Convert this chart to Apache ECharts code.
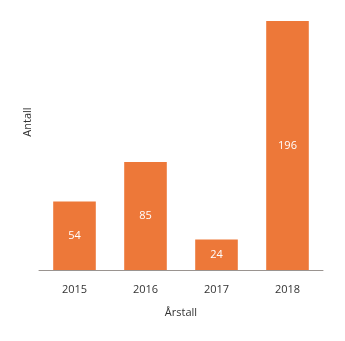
<!DOCTYPE html>
<html>
<head>
<meta charset="utf-8">
<script src="https://cdn.jsdelivr.net/npm/echarts@6/dist/echarts.min.js"></script>
<style>html,body{margin:0;padding:0;background:#fff;}#c{width:345px;height:341px;}</style>
</head>
<body>
<div id="c"></div>
<script>
const categories = ['2015', '2016', '2017', '2018'];
const values = [54, 85, 24, 196];
const xAxisTitle = 'Årstall';
const yAxisTitle = 'Antall';

const chart = echarts.init(document.getElementById('c'), null, {renderer: 'canvas'});
chart.setOption({
  animation: false,
  grid: {left: 39, right: 22, top: 21, bottom: 71},
  xAxis: {
    type: 'category',
    data: categories,
    axisLine: {lineStyle: {color: '#9a9490', width: 1}},
    axisTick: {show: false},
    axisLabel: {color: '#333', fontFamily: 'Open Sans', fontSize: 11, margin: 14},
    name: xAxisTitle,
    nameLocation: 'middle',
    nameGap: 37,
    nameTextStyle: {color: '#333', fontFamily: 'Open Sans', fontSize: 11}
  },
  yAxis: {
    type: 'value',
    min: 0,
    max: 196,
    show: false
  },
  graphic: [{
    type: 'text',
    x: 28, y: 122,
    rotation: Math.PI / 2,
    style: {text: yAxisTitle, fill: '#333', font: '11px "Open Sans"', align: 'center', verticalAlign: 'middle'}
  }],
  series: [{
    type: 'bar',
    data: values,
    barWidth: '60%',
    itemStyle: {color: '#ED7839'},
    label: {show: true, position: 'inside', color: '#fff', fontFamily: 'Open Sans', fontSize: 11}
  }]
});
</script>
</body>
</html>
